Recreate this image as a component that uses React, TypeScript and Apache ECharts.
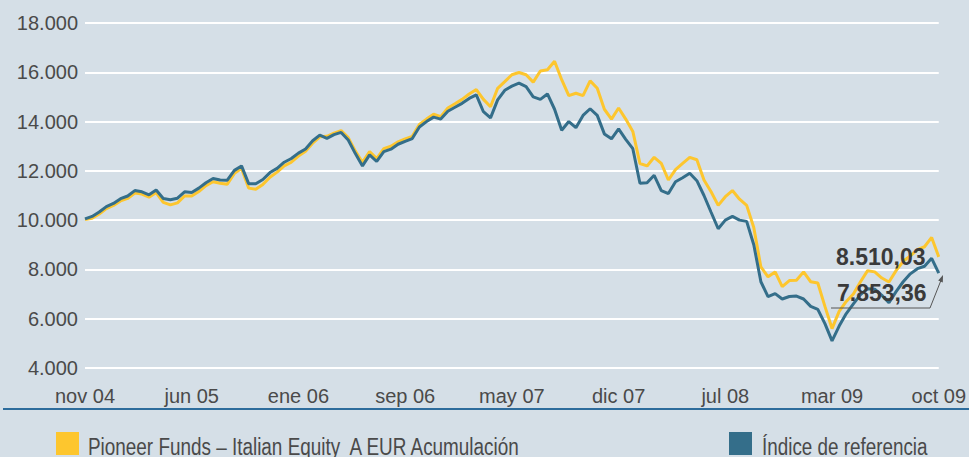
import React, { useEffect, useRef } from "react";
import * as echarts from "echarts";

const tickLabels = ["nov 04", "jun 05", "ene 06", "sep 06", "may 07", "dic 07", "jul 08", "mar 09", "oct 09"];
const fundName = "Pioneer Funds – Italian Equity  A EUR Acumulación";
const indexName = "Índice de referencia";
const fundFinal = "8.510,03";
const indexFinal = "7.853,36";

const fundValues = [
  10020, 10080, 10250, 10470, 10600, 10780, 10880, 11100, 11060, 10930,
  11120, 10720, 10620, 10700, 10980, 10980, 11160, 11400, 11560, 11500,
  11460, 11900, 12100, 11300, 11250, 11450, 11740, 11950, 12200, 12350,
  12600, 12800, 13120, 13380, 13400, 13530, 13630, 13350, 12800, 12350,
  12780, 12500, 12900, 13000, 13180, 13300, 13400, 13880, 14100, 14300,
  14200, 14550, 14720, 14900, 15120, 15300, 14900, 14600, 15350, 15620,
  15900, 15990, 15900, 15600, 16050, 16100, 16450, 15700, 15050, 15150,
  15050, 15650, 15350, 14500, 14100, 14550, 14100, 13600, 12300, 12200,
  12550, 12300, 11630, 12050, 12300, 12550, 12450, 11630, 11150, 10600,
  10950, 11200, 10850, 10600, 9700, 8100, 7700, 7900, 7300, 7550,
  7560, 7900, 7500, 7450, 6500, 5600, 6300, 6700, 7000, 7500,
  7950, 7900, 7650, 7490, 7950, 8330, 8550, 8800, 8920, 9300,
  8510,
];

const indexValues = [
  10050, 10150, 10330, 10550, 10680, 10870, 10980, 11200, 11150, 11030,
  11220, 10880, 10830, 10890, 11150, 11120, 11300, 11520, 11690, 11630,
  11620, 12020, 12200, 11480, 11480, 11650, 11930, 12100, 12350, 12500,
  12720, 12890, 13220, 13450, 13320, 13470, 13560, 13250, 12700, 12200,
  12650, 12380, 12780, 12880, 13080, 13200, 13310, 13780, 14000, 14180,
  14100, 14420, 14580, 14740, 14940, 15080, 14400, 14150, 14880, 15270,
  15440, 15560, 15420, 15000, 14900, 15120, 14500, 13650, 14000, 13750,
  14250, 14520, 14250, 13500, 13300, 13700, 13280, 12900, 11500, 11520,
  11820, 11200, 11080, 11560, 11720, 11900, 11600, 11000, 10320, 9650,
  10000, 10150, 10000, 9950, 9000, 7500, 6900, 7020, 6800, 6900,
  6920, 6800, 6500, 6380, 5800, 5100, 5700, 6210, 6600, 6980,
  7220, 7200, 6950, 6650, 7100, 7500, 7820, 8030, 8130, 8450,
  7853,
];

const yMin = 4000;
const yMax = 18000;
const yStep = 2000;
const labelEvery = 15;

const categories = fundValues.map((_, i) =>
  i % labelEvery === 0 ? tickLabels[i / labelEvery] : String(i)
);

const BG = "#d5dfe7";
const YELLOW = "#fdc62e";
const BLUE = "#346e8a";
const TXT = "#4a4a4a";
const FONT = "'Liberation Sans', Arial, sans-serif";

export default function App() {
  const ref = useRef<HTMLDivElement>(null);
  useEffect(() => {
    document.body.style.margin = "0";
    document.body.style.background = BG;
    const chart = echarts.init(ref.current as HTMLDivElement, null, { renderer: "svg" });
    const legendBase = {
      top: 432,
      padding: 0,
      icon: "rect",
      itemWidth: 23,
      itemHeight: 23,
      selectedMode: false,
      formatter: () => "",
      textStyle: { fontSize: 1 },
    };
    chart.setOption({
      animation: false,
      backgroundColor: BG,
      grid: { left: 85, right: 25, top: 23, bottom: 89 },
      xAxis: {
        type: "category",
        data: categories,
        boundaryGap: false,
        axisLine: { show: false },
        axisTick: { show: false },
        splitLine: { show: false },
        axisLabel: {
          interval: labelEvery - 1,
          margin: 18,
          color: TXT,
          fontSize: 20,
          fontFamily: FONT,
          showMaxLabel: true,
          formatter: (v: string, i: number) => (i % labelEvery === 0 ? v : ""),
        },
      },
      yAxis: {
        type: "value",
        min: yMin,
        max: yMax,
        interval: yStep,
        axisLine: { show: false },
        axisTick: { show: false },
        splitLine: { lineStyle: { color: "#ffffff", width: 2 } },
        axisLabel: {
          margin: 7,
          color: TXT,
          fontSize: 20,
          fontFamily: FONT,
          formatter: (v: number) => `${Math.round(v / 1000)}.000`,
        },
      },
      legend: [
        { ...legendBase, data: [fundName], left: 56 },
        { ...legendBase, data: [indexName], left: 729 },
      ],
      series: [
        {
          name: fundName,
          type: "line",
          data: fundValues,
          symbol: "none",
          color: YELLOW,
          lineStyle: { color: YELLOW, width: 3 },
          z: 2,
        },
        {
          name: indexName,
          type: "line",
          data: indexValues,
          symbol: "none",
          color: BLUE,
          lineStyle: { color: BLUE, width: 3 },
          z: 3,
        },
      ],
      graphic: [
        {
          type: "line",
          shape: { x1: 3, y1: 409, x2: 969, y2: 409 },
          style: { stroke: "#2d6c9c", lineWidth: 2 },
          z: 10,
        },
        {
          type: "text",
          x: 88,
          y: 447,
          scaleX: 0.822,
          style: { text: fundName, fill: TXT, font: `23px ${FONT}`, verticalAlign: "middle" },
          z: 10,
        },
        {
          type: "text",
          x: 762,
          y: 447,
          scaleX: 0.82,
          style: { text: indexName, fill: TXT, font: `23px ${FONT}`, verticalAlign: "middle" },
          z: 10,
        },
        {
          type: "polyline",
          shape: { points: [[831, 308], [930, 308], [941.5, 279]] },
          style: { stroke: "#555555", lineWidth: 1, fill: null },
          z: 10,
        },
        {
          type: "polygon",
          shape: { points: [[943, 275], [942.8, 282.4], [938.2, 280.6]] },
          style: { fill: "#555555" },
          z: 10,
        },
        {
          type: "text",
          x: 836,
          y: 257,
          style: {
            text: fundFinal,
            fill: "#3a3a3a",
            font: `bold 23px ${FONT}`,
            verticalAlign: "middle",
          },
          z: 11,
        },
        {
          type: "text",
          x: 837,
          y: 293,
          style: {
            text: indexFinal,
            fill: "#3a3a3a",
            font: `bold 23px ${FONT}`,
            verticalAlign: "middle",
          },
          z: 11,
        },
      ],
    });
    return () => chart.dispose();
  }, []);
  return <div ref={ref} style={{ width: 969, height: 457, background: BG }} />;
}
